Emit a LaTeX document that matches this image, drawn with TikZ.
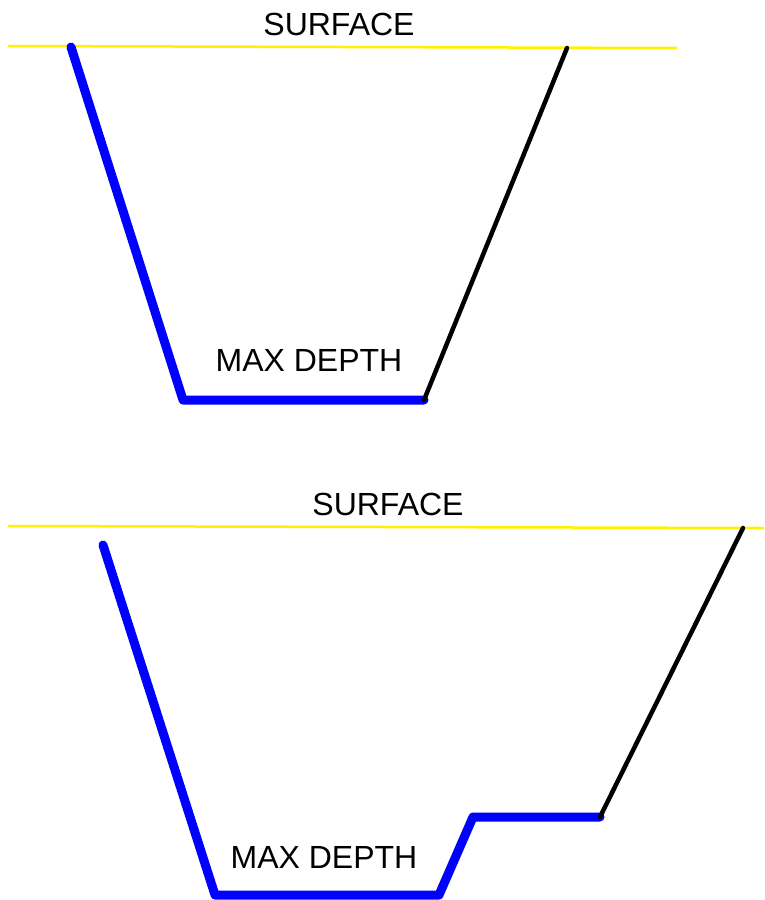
\documentclass[tikz,border=0pt]{standalone}
\usepackage{fontspec}
\setmainfont{Liberation Sans}
\begin{document}
\begin{tikzpicture}[x=1pt,y=-1pt,
  surf/.style={draw=yellow,line width=2.5pt},
  wall/.style={draw=blue,line width=9pt,line cap=round,line join=round},
  bank/.style={draw=black,line width=4.5pt,line cap=round,line join=round},
  lbl/.style={font=\fontsize{32}{32}\selectfont,inner sep=0pt}]
\useasboundingbox (0,0) rectangle (764,900);
% top profile
\coordinate (s1a) at (8,46);
\coordinate (s1b) at (677,48);
\coordinate (a1) at (71,47);
\coordinate (a2) at (183,400);
\coordinate (a3) at (424,400);
\coordinate (a4) at (567,48);
\draw[surf] (s1a) -- (s1b);
\draw[wall] (a1) -- (a2) -- (a3);
\draw[bank] (a3) -- (a4);
\node[lbl] (surf1) at (339,24) {SURFACE};
\node[lbl] (max1) at (309,360) {MAX DEPTH};
% bottom profile
\coordinate (s2a) at (8,526);
\coordinate (s2b) at (764,528);
\coordinate (b1) at (103,545);
\coordinate (b2) at (215,895);
\coordinate (b3) at (439,895);
\coordinate (b4) at (473,817);
\coordinate (b5) at (600,817);
\coordinate (b6) at (743,528);
\draw[surf] (s2a) -- (s2b);
\draw[wall] (b1) -- (b2) -- (b3) -- (b4) -- (b5);
\draw[bank] (b5) -- (b6);
\node[lbl] (surf2) at (388,504) {SURFACE};
\node[lbl] (max2) at (324,857) {MAX DEPTH};
\end{tikzpicture}
\end{document}
